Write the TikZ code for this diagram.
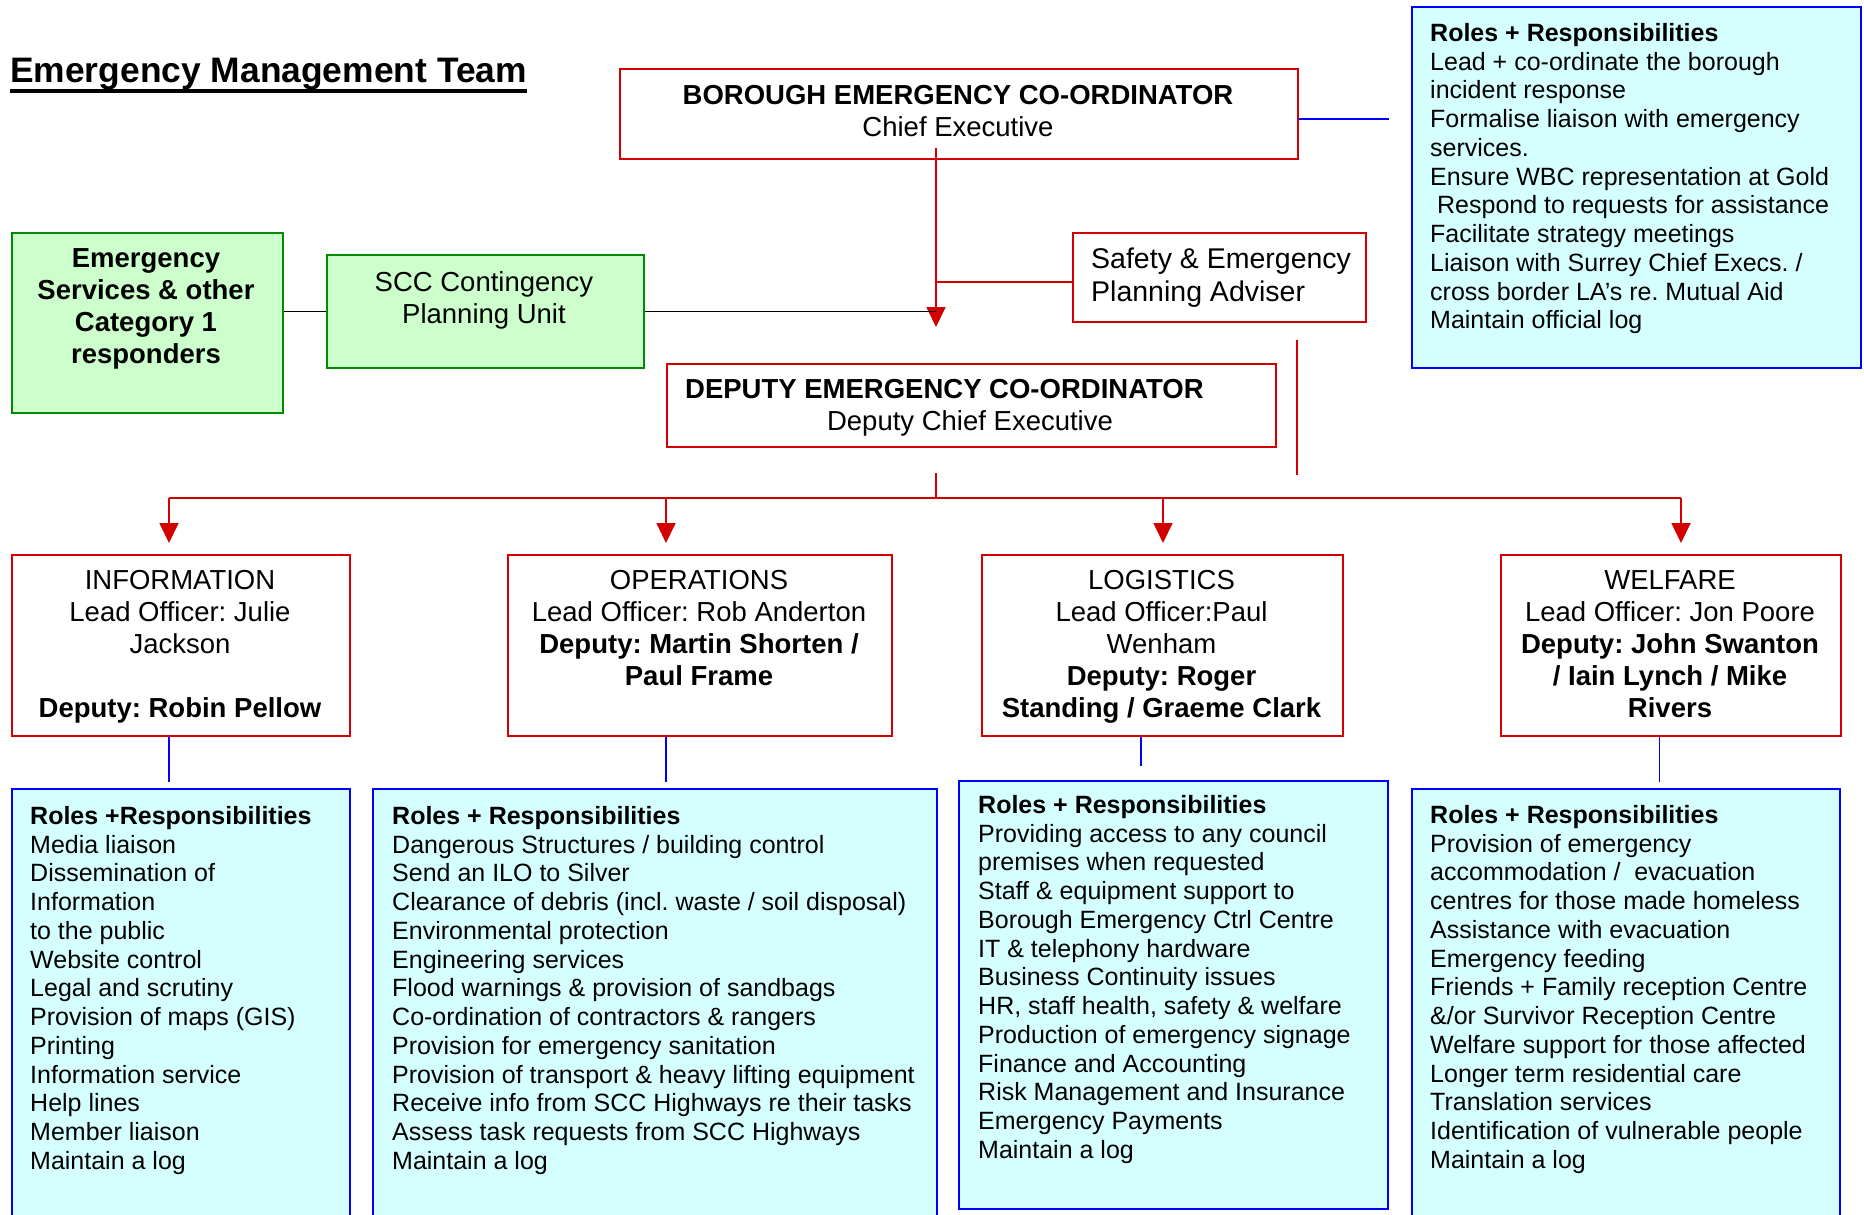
\documentclass[tikz,border=0pt]{standalone}
\usepackage{fontspec}
\setmainfont{Liberation Sans}
\usetikzlibrary{arrows.meta}
\definecolor{rd}{RGB}{210,0,0}
\definecolor{bl}{RGB}{0,0,255}
\definecolor{gb}{RGB}{0,140,0}
\definecolor{gf}{RGB}{204,255,204}
\definecolor{cf}{RGB}{213,255,255}
\frenchspacing
\begin{document}
\begin{tikzpicture}[x=1pt,y=-1pt,
  redbox/.style={draw=rd, line width=2pt, fill=white, inner sep=0pt, anchor=north west},
  greenbox/.style={draw=gb, fill=gf, line width=2pt, inner sep=0pt, anchor=north west},
  rolebox/.style={draw=bl, fill=cf, line width=2.2pt, inner sep=0pt, anchor=north west},
  redline/.style={draw=rd, line width=1.8pt},
  busline/.style={draw=rd, line width=2.4pt},
  blueline/.style={draw=bl, line width=1.6pt},
  blackline/.style={draw=black, line width=1.8pt},
  arr/.style={redline, -{Triangle[width=19pt,length=20pt]}, color=rd},
  rtxt/.style={inner sep=0pt, align=left, anchor=north west, font=\fontsize{25}{28.75}\selectfont},
  dtxt/.style={inner sep=0pt, align=center, anchor=north, font=\fontsize{27.5}{32}\selectfont},
]
\useasboundingbox (0,0) rectangle (1864,1215);
\clip (0,0) rectangle (1864,1215);

% Title
\node[anchor=base west, inner sep=0pt, font=\bfseries\fontsize{35.4}{40}\selectfont] (title) at (10,82.5) {Emergency Management Team};
\draw[line width=3.6pt] ([yshift=-8.5pt]title.base west) -- ([yshift=-8.5pt]title.base east);

% Boxes
\node[redbox, minimum width=678pt, minimum height=90pt] (bor) at (619,68) {};
\node[rolebox, minimum width=449pt, minimum height=361pt] (rolesB) at (1411,6) {};
\node[greenbox, minimum width=271pt, minimum height=180pt] (esr) at (11,232) {};
\node[greenbox, minimum width=317pt, minimum height=113pt] (scc) at (326,254) {};
\node[redbox, minimum width=293pt, minimum height=89pt] (saf) at (1072,232) {};
\node[redbox, minimum width=609pt, minimum height=83pt] (dep) at (666,363) {};
\node[redbox, minimum width=338pt, minimum height=181pt] (info) at (11,554) {};
\node[redbox, minimum width=384pt, minimum height=181pt] (ops) at (507,554) {};
\node[redbox, minimum width=361pt, minimum height=181pt] (log) at (981,554) {};
\node[redbox, minimum width=340pt, minimum height=181pt] (wel) at (1500,554) {};
\node[rolebox, minimum width=338pt, minimum height=460pt] (rInfo) at (11,788) {};
\node[rolebox, minimum width=564pt, minimum height=460pt] (rOps) at (372,788) {};
\node[rolebox, minimum width=429pt, minimum height=428pt] (rLog) at (958,780) {};
\node[rolebox, minimum width=428pt, minimum height=460pt] (rWel) at (1411,788) {};

% Texts
\node[dtxt] (borT) at (958,85) {\textbf{BOROUGH EMERGENCY CO-ORDINATOR}\\Chief Executive};
\node[inner sep=0pt, anchor=north west, font=\bfseries\fontsize{27.5}{32}\selectfont] (depT1) at (685,379) {DEPUTY EMERGENCY CO-ORDINATOR};
\node[inner sep=0pt, anchor=north, font=\fontsize{27.5}{32}\selectfont] (depT2) at (970,410) {Deputy Chief Executive};
\node[inner sep=0pt, align=left, anchor=north west, font=\fontsize{28.5}{33}\selectfont] (safT) at (1091,248) {Safety \& Emergency\\Planning Adviser};
\node[dtxt, font=\bfseries\fontsize{27.5}{32}\selectfont] (esrT) at (146,248) {Emergency\\Services \& other\\Category 1\\responders};
\node[dtxt] (sccT) at (484,271) {SCC Contingency\\Planning Unit};

\node[dtxt] (infoT) at (180,570) {INFORMATION\\Lead Officer: Julie\\Jackson\\[32pt]\textbf{Deputy: Robin Pellow}};
\node[dtxt] (opsT) at (699,570) {OPERATIONS\\Lead Officer: Rob Anderton\\\textbf{Deputy: Martin Shorten /}\\\textbf{Paul Frame}};
\node[dtxt] (logT) at (1161.5,570) {LOGISTICS\\Lead Officer:Paul\\Wenham\\\textbf{Deputy: Roger}\\\textbf{Standing / Graeme Clark}};
\node[dtxt] (welT) at (1670,570) {WELFARE\\Lead Officer: Jon Poore\\\textbf{Deputy: John Swanton}\\\textbf{/ Iain Lynch / Mike}\\\textbf{Rivers}};

\node[rtxt] (rolesBT) at (1430,23) {\textbf{Roles + Responsibilities}\\Lead + co-ordinate the borough\\incident response\\Formalise liaison with emergency\\services.\\Ensure WBC representation at Gold\\\ Respond to requests for assistance\\Facilitate strategy meetings\\Liaison with Surrey Chief Execs. /\\cross border LA’s re. Mutual Aid\\Maintain official log};
\node[rtxt] (rInfoT) at (30,806) {\textbf{Roles +Responsibilities}\\Media liaison\\Dissemination of\\Information\\to the public\\Website control\\Legal and scrutiny\\Provision of maps (GIS)\\Printing\\Information service\\Help lines\\Member liaison\\Maintain a log};
\node[rtxt] (rOpsT) at (392,806) {\textbf{Roles + Responsibilities}\\Dangerous Structures / building control\\Send an ILO to Silver\\Clearance of debris (incl. waste / soil disposal)\\Environmental protection\\Engineering services\\Flood warnings \& provision of sandbags\\Co-ordination of contractors \& rangers\\Provision for emergency sanitation\\Provision of transport \& heavy lifting equipment\\Receive info from SCC Highways re their tasks\\Assess task requests from SCC Highways\\Maintain a log};
\node[rtxt] (rLogT) at (978,795) {\textbf{Roles + Responsibilities}\\Providing access to any council\\premises when requested\\Staff \& equipment support to\\Borough Emergency Ctrl Centre\\IT \& telephony hardware\\Business Continuity issues\\HR, staff health, safety \& welfare\\Production of emergency signage\\Finance and Accounting\\Risk Management and Insurance\\Emergency Payments\\Maintain a log};
\node[rtxt] (rWelT) at (1430,805) {\textbf{Roles + Responsibilities}\\Provision of emergency\\accommodation /\ \ evacuation\\centres for those made homeless\\Assistance with evacuation\\Emergency feeding\\Friends + Family reception Centre\\\&/or Survivor Reception Centre\\Welfare support for those affected\\Longer term residential care\\Translation services\\Identification of vulnerable people\\Maintain a log};

% Coordinates
\coordinate (tipTop) at (936,327);
\coordinate (jSaf) at (936,282);
\coordinate (vA) at (1297,340);
\coordinate (vB) at (1297,475);
\coordinate (stubA) at (936,473);
\coordinate (busM) at (936,498);
\coordinate (busL) at (169,498);
\coordinate (busR) at (1681,498);
\coordinate (bOps) at (666,498);
\coordinate (bLog) at (1163,498);

% Connectors
\draw[blueline] ([yshift=-5pt]bor.east) -- ++(90,0) coordinate (borEnd);
\draw[redline] (jSaf) -- (jSaf -| saf.west);
\draw[arr] ([yshift=12pt]bor.south -| tipTop) -- (tipTop);
\draw[blackline] (esr.east |- scc.west) -- (scc.west);
\draw[blackline] (scc.east) -- (scc.east -| tipTop) coordinate (jBlk);
\draw[redline] (vA) -- (vB);
\draw[redline] (stubA) -- (busM);
\draw[busline] (busL) -- (busR);
\draw[arr] (busL) -- (busL |- 0,543);
\draw[arr] (bOps) -- (bOps |- 0,543);
\draw[arr] (bLog) -- (bLog |- 0,543);
\draw[arr] (busR) -- (busR |- 0,543);
\draw[blueline] (info.south -| busL) -- ++(0,45);
\draw[blueline] (ops.south -| bOps) -- ++(0,45);
\draw[blueline] ([xshift=-21.5pt]log.south) -- ++(0,29);
\draw[blueline] ([xshift=-11.5pt]wel.south) -- ++(0,45);
\end{tikzpicture}
\end{document}
